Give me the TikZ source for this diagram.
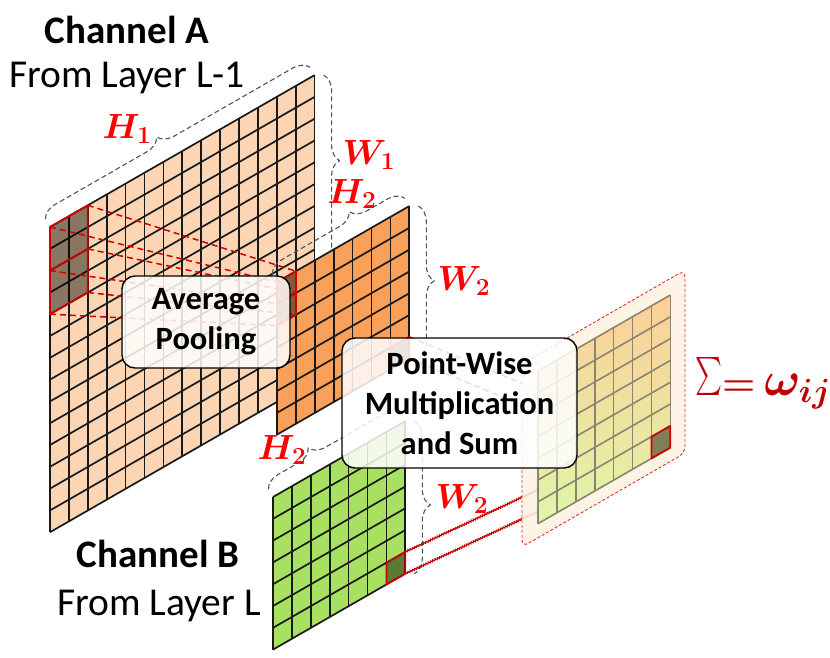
\documentclass[tikz,border=0pt]{standalone}
\usepackage{fix-cm}
\usepackage{amsmath,bm,graphicx}
\usepackage[no-math]{fontspec}
\setmainfont{Carlito}
\usetikzlibrary{decorations.pathreplacing,decorations.pathmorphing}

\definecolor{peach}{HTML}{FCD5B4}
\definecolor{orng}{HTML}{F9A05A}
\definecolor{lgreen}{HTML}{A8E061}
\definecolor{bluegray}{HTML}{44546A}
\definecolor{hired}{HTML}{D00000}
\definecolor{sumred}{HTML}{C00000}
\definecolor{restop}{HTML}{FDCF98}
\definecolor{resmid}{HTML}{FBEA9E}
\definecolor{resbot}{HTML}{DFF6A8}
\definecolor{resgray}{HTML}{8A8572}
\definecolor{panelfill}{HTML}{FEF3E2}

\begin{document}
\begin{tikzpicture}[x=1pt, y=-1pt, line join=round,
    cells/.style={shift={#1}, x={(18.9pt,10.85pt)}, y={(0pt,-21.8pt)}},
    gridline/.style={line width=1.7pt, black!90},
    resline/.style={line width=1.6pt, resgray},
    pickcell/.style={line width=1.7pt, draw=hired, fill=black, fill opacity=.45, draw opacity=1},
    pooldash/.style={hired, line width=1.5pt, dash pattern=on 6pt off 4pt},
    mulwave/.style={sumred, line width=1.1pt, decorate, decoration={snake, amplitude=1pt, segment length=2.5pt}},
    dimbrace/.style={bluegray, line width=1.1pt, dash pattern=on 5pt off 3pt, decorate},
    dimlabel/.style={text=red, font=\boldmath\fontsize{35}{35}\selectfont, inner sep=0pt},
    txtbox/.style={draw=black, line width=1.4pt, fill=white, fill opacity=.85, text opacity=1,
      rounded corners=13pt, align=center, font=\bfseries\fontsize{32.5}{40}\selectfont}]
\useasboundingbox (0,0) rectangle (830,657);

\begin{scope}[cells={(50,227)}]
  \fill[peach] (0,0) -- (14,0) -- (14,14) -- (0,14) -- cycle;
  \foreach \k in {0,...,14} {
    \draw[gridline] (\k,0) -- (\k,14);
    \draw[gridline] (0,\k) -- (14,\k);
  }
  \filldraw[pickcell] (0,0) -- (2,0) -- (2,4) -- (0,4) -- cycle;
  \draw[pickcell] (0,2) -- (2,2);
  \coordinate (atl) at (0,0);
  \coordinate (atr) at (14,0);
  \coordinate (abr) at (14,14);
  \coordinate (a1) at (0,0);
  \coordinate (a2) at (2,0);
  \coordinate (a3) at (0,2);
  \coordinate (a4) at (2,2);
  \coordinate (a5) at (0,4);
  \coordinate (a6) at (2,4);
\end{scope}
\draw[dimbrace, decoration={brace, amplitude=16pt, raise=9pt, aspect=.45}] (atl) -- (atr);
\draw[dimbrace, decoration={brace, amplitude=16pt, raise=9pt, aspect=.28}] (atr) -- (abr);

\begin{scope}[cells={(277,282)}]
  \fill[orng] (0,0) -- (7,0) -- (7,7) -- (0,7) -- cycle;
  \foreach \k in {0,...,7} {
    \draw[gridline] (\k,0) -- (\k,7);
    \draw[gridline] (0,\k) -- (7,\k);
  }
  \filldraw[pickcell] (0,0) -- (1,0) -- (1,2) -- (0,2) -- cycle;
  \draw[pickcell] (0,1) -- (1,1);
  \filldraw[pickcell] (6,6) -- (7,6) -- (7,7) -- (6,7) -- cycle;
  \coordinate (otl) at (0,0);
  \coordinate (otr) at (7,0);
  \coordinate (obr) at (7,7);
  \coordinate (o1) at (0,0);
  \coordinate (o2) at (1,0);
  \coordinate (o3) at (0,1);
  \coordinate (o4) at (1,1);
  \coordinate (o5) at (0,2);
  \coordinate (o6) at (1,2);
  \coordinate (ocu) at (7,6);
  \coordinate (ocd) at (7,7);
\end{scope}
\draw[dimbrace, decoration={brace, amplitude=16pt, raise=9pt, aspect=.64}] (otl) -- (otr);
\draw[dimbrace, decoration={brace, amplitude=16pt, raise=9pt, aspect=.49}] (otr) -- (obr);
\foreach \i in {1,...,6}
  \draw[pooldash] (a\i) -- (o\i);

\begin{scope}[cells={(273,497)}]
  \fill[lgreen] (0,0) -- (7,0) -- (7,7) -- (0,7) -- cycle;
  \foreach \k in {0,...,7} {
    \draw[gridline] (\k,0) -- (\k,7);
    \draw[gridline] (0,\k) -- (7,\k);
  }
  \filldraw[pickcell] (6,6) -- (7,6) -- (7,7) -- (6,7) -- cycle;
  \coordinate (gtl) at (0,0);
  \coordinate (gtr) at (7,0);
  \coordinate (gbr) at (7,7);
  \coordinate (gcu) at (7,6);
  \coordinate (gcd) at (7,7);
\end{scope}
\draw[dimbrace, decoration={brace, amplitude=16pt, raise=9pt, aspect=.36}] (gtl) -- (gtr);
\draw[dimbrace, decoration={brace, amplitude=16pt, raise=9pt, aspect=.55}] (gtr) -- (gbr);

\coordinate (rcu) at (651.4,436.7);
\coordinate (rcd) at (651.4,458.5);
\draw[pooldash] (ocu) -- (rcu);
\draw[pooldash] (ocd) -- (rcd);
\draw[mulwave] (gcu) -- (rcu);
\draw[mulwave] (gcd) -- (rcd);

\filldraw[fill=panelfill, fill opacity=.88, draw=hired!80, line width=.9pt, dash pattern=on 3pt off 2pt,
  rounded corners=7pt] (522,364) -- (685,270) -- (685,453) -- (522,547) -- cycle;

\begin{scope}[cells={(538,371)}]
  \shade[top color=restop, middle color=resmid, bottom color=resbot] (0,0) -- (7,0) -- (7,7) -- (0,7) -- cycle;
  \foreach \k in {0,...,7} {
    \draw[resline] (\k,0) -- (\k,7);
    \draw[resline] (0,\k) -- (7,\k);
  }
  \filldraw[pickcell] (6,6) -- (7,6) -- (7,7) -- (6,7) -- cycle;
\end{scope}

\node[txtbox, minimum width=168pt, minimum height=92pt] (pool) at (206,322) {Average\\Pooling};
\node[txtbox, minimum width=235pt, minimum height=130pt] (mult) at (459.5,403) {Point-Wise\\Multiplication\\and Sum};

\node[anchor=base, font=\bfseries\fontsize{39}{39}\selectfont] (chA) at (127,43) {Channel A};
\node[anchor=base, font=\fontsize{39.5}{39.5}\selectfont] (fromA) at (127,87) {From Layer L-1};
\node[anchor=base, font=\bfseries\fontsize{39}{39}\selectfont] (chB) at (158,567) {Channel B};
\node[anchor=base, font=\fontsize{39.5}{39.5}\selectfont] (fromB) at (159,615) {From Layer L};

\node[dimlabel] (h1) at (127,129) {$H_1$};
\node[dimlabel] (w1) at (369,155) {$W_1$};
\node[dimlabel] (h2a) at (352,194) {$H_2$};
\node[dimlabel] (w2a) at (464,281) {$W_2$};
\node[dimlabel] (h2b) at (282,450) {$H_2$};
\node[dimlabel] (w2b) at (462,499) {$W_2$};

\node[anchor=base west, text=sumred, font=\boldmath\fontsize{48}{48}\selectfont, inner sep=0pt] (sum) at (695,395)
  {\resizebox*{27pt}{38pt}{$\sum$}{\fontsize{38}{38}\selectfont$=$}\kern9pt$\omega_{ij}$};
\end{tikzpicture}
\end{document}
